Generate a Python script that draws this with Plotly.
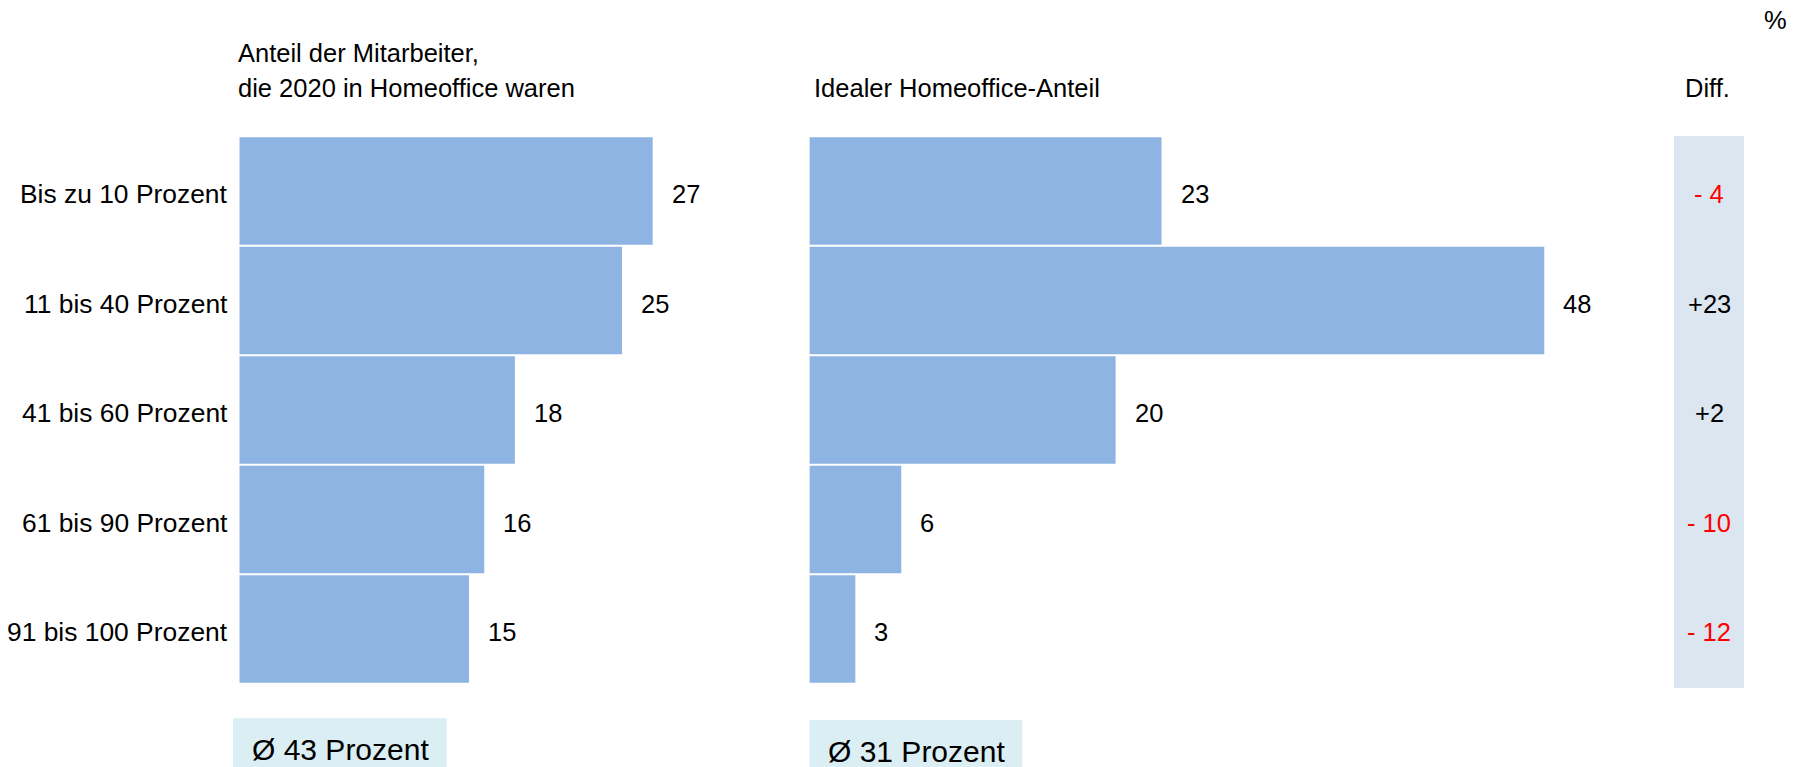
import plotly.graph_objects as go

# ---- data ----
categories = ["Bis zu 10 Prozent", "11 bis 40 Prozent", "41 bis 60 Prozent",
              "61 bis 90 Prozent", "91 bis 100 Prozent"]
share_2020 = [27, 25, 18, 16, 15]
ideal_share = [23, 48, 20, 6, 3]
diff_values = [-4, 23, 2, -10, -12]
avg_2020 = 43
avg_ideal = 31
header_left = ["Anteil der Mitarbeiter,", "die 2020 in Homeoffice waren"]
header_right = "Idealer Homeoffice-Anteil"
header_diff = "Diff."
unit_label = "%"

# ---- styling ----
W, H = 1795, 767
FONT = "Liberation Sans, Arial, sans-serif"
FS = 25.5
BAR_COLOR = "#8EB4E3"
DIFF_BG = "#DCE6F1"
AVG_BG = "#DAEEF3"


def px(x):
    return x / W


def py(y):
    return 1 - y / H


PXU = 15.31  # pixels per percentage point
p1_x0 = 239.3
p2_x0 = 809.4
r1, r2 = 30, 55
y_top, y_bot = 136.3, 683.8

fig = go.Figure()

fig.add_trace(go.Bar(x=share_2020, y=categories, orientation="h",
                     marker=dict(color=BAR_COLOR, line=dict(width=0)),
                     xaxis="x", yaxis="y", hoverinfo="skip"))
fig.add_trace(go.Bar(x=ideal_share, y=categories, orientation="h",
                     marker=dict(color=BAR_COLOR, line=dict(width=0)),
                     xaxis="x2", yaxis="y", hoverinfo="skip"))

annotations = []
# category labels
for c in categories:
    annotations.append(dict(x=0, y=c, xref="x", yref="y", text=c,
                            showarrow=False, xanchor="right", xshift=-9, yshift=-3,
                            font=dict(family=FONT, size=26.4, color="#000")))
# value labels
for c, v in zip(categories, share_2020):
    annotations.append(dict(x=v, y=c, xref="x", yref="y", text=str(v),
                            showarrow=False, xanchor="left", xshift=17, yshift=-3,
                            font=dict(family=FONT, size=FS, color="#000")))
for c, v in zip(categories, ideal_share):
    annotations.append(dict(x=v, y=c, xref="x2", yref="y", text=str(v),
                            showarrow=False, xanchor="left", xshift=17, yshift=-3,
                            font=dict(family=FONT, size=FS, color="#000")))
# difference column
for c, d in zip(categories, diff_values):
    txt = f"- {abs(d)}" if d < 0 else f"+{d}"
    col = "#FF0000" if d < 0 else "#000000"
    annotations.append(dict(x=0.5, y=c, xref="x3", yref="y", text=txt,
                            showarrow=False, xanchor="center", yshift=-3,
                            font=dict(family=FONT, size=FS, color=col)))

# headers
annotations.append(dict(x=px(236), y=py(52.7), xref="paper", yref="paper",
                        text=header_left[0], showarrow=False, xanchor="left",
                        yanchor="middle", font=dict(family=FONT, size=FS, color="#000")))
annotations.append(dict(x=px(236), y=py(88.1), xref="paper", yref="paper",
                        text=header_left[1], showarrow=False, xanchor="left",
                        yanchor="middle", font=dict(family=FONT, size=FS, color="#000")))
annotations.append(dict(x=px(812), y=py(88.1), xref="paper", yref="paper",
                        text=header_right, showarrow=False, xanchor="left",
                        yanchor="middle", font=dict(family=FONT, size=FS, color="#000")))
annotations.append(dict(x=px(1707), y=py(88.1), xref="paper", yref="paper",
                        text=header_diff, showarrow=False, xanchor="center",
                        yanchor="middle", font=dict(family=FONT, size=FS, color="#000")))
annotations.append(dict(x=px(1775), y=py(20), xref="paper", yref="paper",
                        text=unit_label, showarrow=False, xanchor="center",
                        yanchor="middle", font=dict(family=FONT, size=FS, color="#000")))

# average boxes
annotations.append(dict(x=px(340), y=py(749), xref="paper", yref="paper",
                        text=f"Ø {avg_2020} Prozent", showarrow=False, xanchor="center",
                        yanchor="middle", font=dict(family=FONT, size=30, color="#000")))
annotations.append(dict(x=px(916), y=py(751), xref="paper", yref="paper",
                        text=f"Ø {avg_ideal} Prozent", showarrow=False, xanchor="center",
                        yanchor="middle", font=dict(family=FONT, size=30, color="#000")))

shapes = [
    dict(type="rect", xref="paper", yref="paper", x0=px(1674), x1=px(1744),
         y0=py(688), y1=py(136), fillcolor=DIFF_BG, line=dict(width=0), layer="below"),
    dict(type="rect", xref="paper", yref="paper", x0=px(233), x1=px(446.7),
         y0=0, y1=py(718.3), fillcolor=AVG_BG, line=dict(width=0), layer="below"),
    dict(type="rect", xref="paper", yref="paper", x0=px(809.4), x1=px(1022.3),
         y0=0, y1=py(720), fillcolor=AVG_BG, line=dict(width=0), layer="below"),
]

axis_common = dict(showgrid=False, zeroline=False, showticklabels=False,
                   showline=False, ticks="", fixedrange=True)

fig.update_layout(
    width=W, height=H,
    margin=dict(l=0, r=0, t=0, b=0),
    paper_bgcolor="white", plot_bgcolor="rgba(0,0,0,0)",
    showlegend=False,
    bargap=0.018,
    font=dict(family=FONT, size=FS, color="#000"),
    xaxis=dict(domain=[px(p1_x0), px(p1_x0 + PXU * r1)], range=[0, r1], anchor="y", **axis_common),
    xaxis2=dict(domain=[px(p2_x0), px(p2_x0 + PXU * r2)], range=[0, r2], anchor="y", **axis_common),
    xaxis3=dict(domain=[px(1674), px(1744)], range=[0, 1], anchor="y", **axis_common),
    yaxis=dict(domain=[py(y_bot), py(y_top)], type="category", categoryorder="array",
               categoryarray=categories, autorange="reversed",
               showgrid=False, zeroline=False, showline=False, ticks="",
               showticklabels=False, anchor="x", fixedrange=True),
    annotations=annotations,
    shapes=shapes,
)

fig.write_html("out.html", config={"displayModeBar": False, "staticPlot": True},
               post_script="document.body.style.margin='0';")
